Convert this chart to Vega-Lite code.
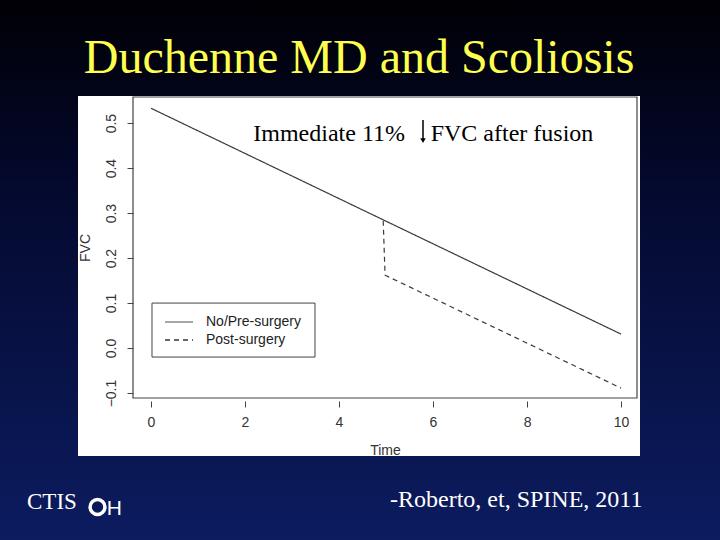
{
  "$schema": "https://vega.github.io/schema/vega-lite/v6.json",
  "width": 504,
  "height": 301,
  "autosize": {"type": "none"},
  "padding": {"left": 133, "top": 97, "right": 83, "bottom": 142},
  "background": "#060d35",
  "config": {"view": {"stroke": null}},
  "encoding": {
    "x": {"field": "x", "type": "quantitative",
      "scale": {"domain": [-0.383, 10.34], "nice": false, "zero": false},
      "axis": {"values": [0, 2, 4, 6, 8, 10], "domain": false, "grid": false, "tickSize": 6, "offset": 3,
        "tickColor": "#444", "labelFont": "Liberation Sans", "labelFontSize": 14, "labelColor": "#333",
        "labelPadding": 8, "labelFlush": false, "title": "Time", "titleFont": "Liberation Sans", "titleFontSize": 14,
        "titleFontWeight": "normal", "titleColor": "#333", "titlePadding": 14, "zindex": 1}},
    "y": {"field": "y", "type": "quantitative",
      "scale": {"domain": [-0.111, 0.558], "nice": false, "zero": false},
      "axis": {"values": [-0.1, 0, 0.1, 0.2, 0.3, 0.4, 0.5], "format": ".1f", "domain": false, "grid": false,
        "tickSize": 6, "tickColor": "#444", "labelFont": "Liberation Sans", "labelFontSize": 14, "labelColor": "#333",
        "labelAngle": 270, "labelAlign": "center", "labelBaseline": "alphabetic", "labelPadding": 12,
        "title": "FVC", "titleFont": "Liberation Sans", "titleFontSize": 14, "titleFontWeight": "normal",
        "titleColor": "#333", "titlePadding": 12, "zindex": 1}}
  },
  "layer": [
    {
      "data": {"values": [{"x": -3.3, "x2": 12.2, "y": 0.78, "y2": -0.44}]},
      "mark": {"type": "rect", "clip": false, "color": {"gradient": "linear", "x1": 0, "y1": 0, "x2": 0, "y2": 1,
        "stops": [{"offset": 0, "color": "#000004"}, {"offset": 0.35, "color": "#04092e"}, {"offset": 1, "color": "#0c1c60"}]}},
      "encoding": {"x2": {"field": "x2"}, "y2": {"field": "y2"}}
    },
    {
      "data": {"values": [{"x": -1.553, "x2": 10.404, "y": 0.56, "y2": -0.24}]},
      "mark": {"type": "rect", "clip": false, "fill": "#ffffff"},
      "encoding": {"x2": {"field": "x2"}, "y2": {"field": "y2"}}
    },
    {
      "data": {"values": [{"x": -0.383, "x2": 10.34, "y": 0.558, "y2": -0.111}]},
      "mark": {"type": "rect", "clip": false, "fill": null, "fillOpacity": 0, "stroke": "#444", "strokeWidth": 1.2},
      "encoding": {"x2": {"field": "x2"}, "y2": {"field": "y2"}}
    },
    {
      "data": {"values": [
        {"series": "No/Pre-surgery", "x": 0, "y": 0.533},
        {"series": "No/Pre-surgery", "x": 10, "y": 0.031},
        {"series": "Post-surgery", "x": 4.94, "y": 0.283},
        {"series": "Post-surgery", "x": 4.98, "y": 0.162},
        {"series": "Post-surgery", "x": 10, "y": -0.089}
      ]},
      "mark": {"type": "line", "color": "#3a3a3a", "strokeWidth": 1.2},
      "encoding": {
        "detail": {"field": "series"},
        "strokeDash": {"field": "series", "type": "nominal", "legend": null,
          "scale": {"domain": ["No/Pre-surgery", "Post-surgery"], "range": [[1, 0], [5, 4]]}}
      }
    },
    {
      "data": {"values": [{"x": 0.021, "x2": 3.489, "y": 0.1, "y2": -0.02}]},
      "mark": {"type": "rect", "fill": "#ffffff", "stroke": "#444", "strokeWidth": 1},
      "encoding": {"x2": {"field": "x2"}, "y2": {"field": "y2"}}
    },
    {
      "data": {"values": [
        {"series": "No/Pre-surgery", "x": 0.298, "x2": 0.894, "y": 0.0578},
        {"series": "Post-surgery", "x": 0.298, "x2": 0.894, "y": 0.0178}
      ]},
      "mark": {"type": "rule", "strokeWidth": 1.5},
      "encoding": {
        "x2": {"field": "x2"},
        "color": {"field": "series", "type": "nominal", "legend": null,
          "scale": {"domain": ["No/Pre-surgery", "Post-surgery"], "range": ["#8a8a8a", "#333333"]}},
        "strokeDash": {"field": "series", "type": "nominal", "legend": null,
          "scale": {"domain": ["No/Pre-surgery", "Post-surgery"], "range": [[1, 0], [5, 4]]}}
      }
    },
    {
      "data": {"values": [
        {"label": "No/Pre-surgery", "x": 1.17, "y": 0.0578},
        {"label": "Post-surgery", "x": 1.17, "y": 0.0178}
      ]},
      "mark": {"type": "text", "align": "left", "baseline": "middle", "font": "Liberation Sans", "fontSize": 14, "color": "#222"},
      "encoding": {"text": {"field": "label"}}
    },
    {
      "data": {"values": [
        {"label": "Immediate 11%", "x": 5.404, "y": 0.4607}
      ]},
      "mark": {"type": "text", "align": "right", "baseline": "alphabetic", "font": "Liberation Serif", "fontSize": 24, "color": "#000"},
      "encoding": {"text": {"field": "label"}}
    },
    {
      "data": {"values": [
        {"label": "FVC after fusion", "x": 5.95, "y": 0.4607}
      ]},
      "mark": {"type": "text", "align": "left", "baseline": "alphabetic", "font": "Liberation Serif", "fontSize": 24, "color": "#000"},
      "encoding": {"text": {"field": "label"}}
    },
    {
      "data": {"values": [{"x": 5.787, "y": 0.507, "y2": 0.462}]},
      "mark": {"type": "rule", "color": "#000", "strokeWidth": 1.5},
      "encoding": {"y2": {"field": "y2"}}
    },
    {
      "data": {"values": [{"x": 5.787, "y": 0.461}]},
      "mark": {"type": "point", "shape": "triangle-down", "filled": true, "color": "#000", "size": 30, "opacity": 1},
      "encoding": {}
    },
    {
      "data": {"values": [{"label": "Duchenne MD and Scoliosis", "x": 4.426, "y": 0.6111}]},
      "mark": {"type": "text", "clip": false, "align": "center", "baseline": "alphabetic", "font": "Liberation Serif", "fontSize": 48, "color": "#ffff4d"},
      "encoding": {"text": {"field": "label"}}
    },
    {
      "data": {"values": [
        {"label": "CTIS", "x": -2.638, "y": -0.3578, "size": 23},
        {"label": "-Roberto, et, SPINE, 2011", "x": 5.085, "y": -0.3533, "size": 24}
      ]},
      "mark": {"type": "text", "clip": false, "align": "left", "baseline": "alphabetic", "font": "Liberation Serif", "color": "#ffffff"},
      "encoding": {"text": {"field": "label"}, "size": {"field": "size", "type": "quantitative", "scale": null, "legend": null}}
    },
    {
      "data": {"values": [{"x": -1.138, "y": -0.3533}]},
      "mark": {"type": "point", "clip": false, "shape": "circle", "filled": false, "color": "#ffffff", "strokeWidth": 3.5, "size": 220, "opacity": 1},
      "encoding": {}
    },
    {
      "data": {"values": [{"label": "H", "x": -0.94, "y": -0.3711}]},
      "mark": {"type": "text", "clip": false, "align": "left", "baseline": "alphabetic", "font": "Liberation Sans", "fontSize": 21, "color": "#ffffff"},
      "encoding": {"text": {"field": "label"}}
    }
  ]
}
